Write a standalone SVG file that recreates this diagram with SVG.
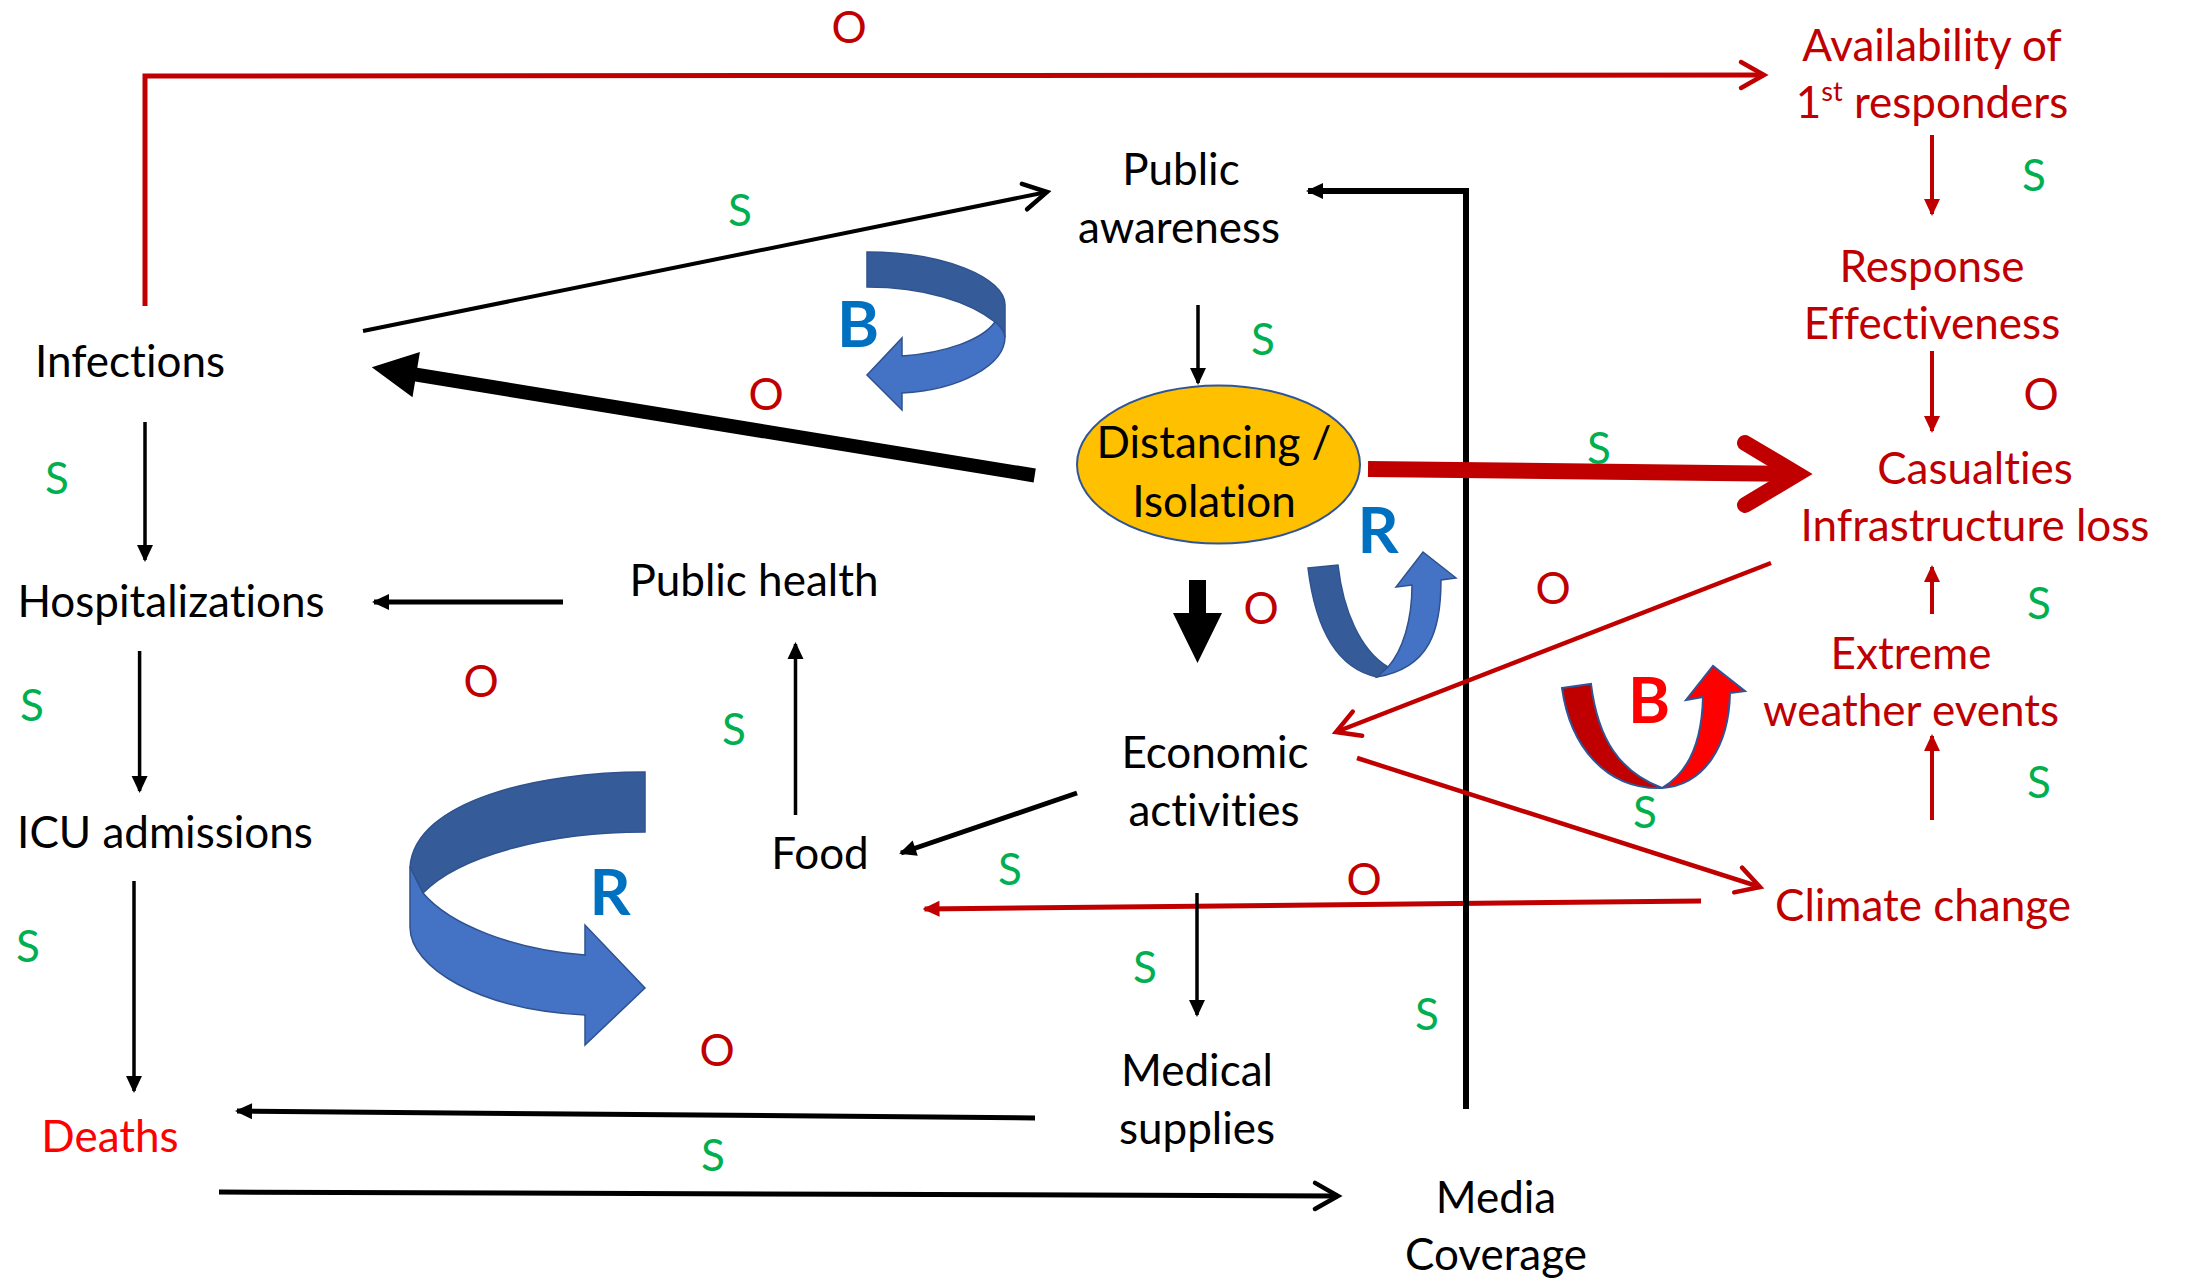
<svg xmlns="http://www.w3.org/2000/svg" width="2187" height="1280" viewBox="0 0 2187 1280">
<style>
.t{font-family:Lato,"Liberation Sans",sans-serif;font-size:44px;text-anchor:middle;font-variant-ligatures:none;font-feature-settings:"liga" 0,"clig" 0}
.k{fill:#000}
.r{fill:#C00000}
.d{fill:#FF0000}
.g{fill:#00B050}
.L{font-family:Lato,"Liberation Sans",sans-serif;font-weight:bold;font-size:64px;text-anchor:middle}
.bl{fill:#0070C0}
.ln{fill:none;stroke:#000;stroke-width:3.5}
.lr{fill:none;stroke:#C00000;stroke-width:4.5}
.dk{fill:#355C99;stroke:#2F528F;stroke-width:1.5}
.lt{fill:#4472C4;stroke:#2F528F;stroke-width:1.5}
</style>
<defs>
<marker id="fa" markerUnits="userSpaceOnUse" markerWidth="20" markerHeight="18" refX="15" refY="8" orient="auto" overflow="visible"><path d="M0,0 L17,8 L0,16 Z" fill="#000"/></marker>
<marker id="fr" markerUnits="userSpaceOnUse" markerWidth="20" markerHeight="18" refX="15" refY="8" orient="auto" overflow="visible"><path d="M0,0 L17,8 L0,16 Z" fill="#C00000"/></marker>
<marker id="oa" markerUnits="userSpaceOnUse" markerWidth="30" markerHeight="30" refX="23" refY="13" orient="auto" overflow="visible"><path d="M0,0 L23,13 L0,26" fill="none" stroke="#000" stroke-width="4.5" stroke-linecap="round"/></marker>
<marker id="or" markerUnits="userSpaceOnUse" markerWidth="30" markerHeight="30" refX="23" refY="13" orient="auto" overflow="visible"><path d="M0,0 L23,13 L0,26" fill="none" stroke="#C00000" stroke-width="4.5" stroke-linecap="round"/></marker>
</defs>
<rect width="2187" height="1280" fill="#fff"/>

<g id="connectors">
<path class="lr" style="stroke-width:5" d="M145,306 L145,76 L1764,75" marker-end="url(#or)"/>
<path class="ln" style="stroke-width:4" d="M363,331 L1047,192" marker-end="url(#oa)"/>
<polygon points="1035.8,468.6 417.3,367.7 419.9,351.9 371.8,367.3 412.5,397.3 415.1,381.5 1033.6,482.4" fill="#000"/>
<path class="ln" d="M145,422 V560" marker-end="url(#fa)"/>
<path class="ln" style="stroke-width:5" d="M563,602 H374" marker-end="url(#fa)"/>
<path class="ln" d="M139.6,651 V791" marker-end="url(#fa)"/>
<path class="ln" d="M134,881 V1091" marker-end="url(#fa)"/>
<path class="ln" d="M795.5,815 V644" marker-end="url(#fa)"/>
<path class="ln" style="stroke-width:5" d="M1077,793 L901,853" marker-end="url(#fa)"/>
<path class="lr" style="stroke-width:5" d="M1701,901 L924.5,909" marker-end="url(#fr)"/>
<path class="ln" style="stroke-width:5" d="M1035,1118 L237,1111" marker-end="url(#fa)"/>
<path class="ln" style="stroke-width:5" d="M219,1192 L1338,1196" marker-end="url(#oa)"/>
<path class="ln" style="stroke-width:6" d="M1466,1109 V191 H1308" marker-end="url(#fa)"/>
<path class="ln" d="M1198,305 V383" marker-end="url(#fa)"/>
<polygon points="1189,580 1206,580 1206,613 1222,613 1197.5,663 1173,613 1189,613" fill="#000"/>
<path d="M1368,469 L1795,474" fill="none" stroke="#C00000" stroke-width="16"/>
<path d="M1745,443 L1797,474 L1745,505" fill="none" stroke="#C00000" stroke-width="16" stroke-linecap="round" stroke-linejoin="miter"/>
<path class="lr" d="M1771,563 L1336,732" marker-end="url(#or)"/>
<path class="lr" d="M1357,758 L1760,887" marker-end="url(#or)"/>
<path class="ln" d="M1197,893 V1015" marker-end="url(#fa)"/>
<path class="lr" style="stroke-width:4" d="M1932,135 V214" marker-end="url(#fr)"/>
<path class="lr" style="stroke-width:4" d="M1932,351 V431" marker-end="url(#fr)"/>
<path class="lr" style="stroke-width:4" d="M1932,614 V567" marker-end="url(#fr)"/>
<path class="lr" style="stroke-width:4" d="M1932,820 V736" marker-end="url(#fr)"/>
</g>

<g id="loop-B1">
<path class="dk" d="M867,252 C945,252 1005,278 1005,305 L1005,337 C1004,330 1000,326 995,322 C970,302 925,287 867,287 Z"/>
<path class="lt" d="M995,322 C1000,326 1004,330 1005,337 C1005,365 960,390 902,393 L902,410 L867,375 L902,338 L902,356 C945,353 982,340 995,322 Z"/>
<text class="L bl" x="858" y="347">B</text>
</g>
<g id="loop-R1">
<path class="dk" d="M645,772 C540,772 415,800 410,867 L423,893 C460,855 550,832 645,832 Z"/>
<path class="lt" d="M410,867 L410,927 C410,968 480,1010 585,1015 L585,1045 L645,988 L585,925 L585,955 C515,950 450,925 423,893 Z"/>
<text class="L bl" x="610" y="915">R</text>
</g>
<g id="loop-R2">
<path class="dk" d="M1308,568 L1338,565 C1343,610 1360,650 1388,667 L1377,677 C1335,668 1315,625 1308,568 Z"/>
<path class="lt" d="M1388,667 C1403,650 1412,620 1412,585 L1396,587 L1423,552 L1456,578 L1441,580 C1441,630 1430,668 1377,677 Z"/>
<text class="L bl" x="1378" y="553">R</text>
</g>
<g id="loop-B2">
<path d="M1562,688 L1591,684 C1598,740 1620,772 1662,788 C1605,790 1570,745 1562,688 Z" fill="#C00000" stroke="#2F5597" stroke-width="2"/>
<path d="M1662,788 C1690,772 1702,740 1703,697 L1686,700 L1713,666 L1745,691 L1730,693 C1729,745 1705,785 1662,788 Z" fill="#FF0000" stroke="#2F5597" stroke-width="2"/>
<text class="L d" x="1649" y="723">B</text>
</g>

<g id="node-infections"><text class="t k" x="130" y="377">Infections</text></g>
<g id="node-hospitalizations"><text class="t k" x="171" y="617">Hospitalizations</text></g>
<g id="node-public-health"><text class="t k" x="754" y="596">Public health</text></g>
<g id="node-icu"><text class="t k" x="165" y="848">ICU admissions</text></g>
<g id="node-food"><text class="t k" x="820" y="869">Food</text></g>
<g id="node-deaths"><text class="t d" x="110" y="1152">Deaths</text></g>
<g id="node-public-awareness"><text class="t k" x="1181" y="185">Public</text><text class="t k" x="1179" y="243">awareness</text></g>
<g id="node-distancing">
<ellipse cx="1218.5" cy="464.5" rx="141.5" ry="79" fill="#FFC000" stroke="#2F5597" stroke-width="2"/>
<text class="t k" x="1214" y="458">Distancing /</text><text class="t k" x="1214" y="517">Isolation</text></g>
<g id="node-economic"><text class="t k" x="1215" y="768">Economic</text><text class="t k" x="1214" y="826">activities</text></g>
<g id="node-medical"><text class="t k" x="1197" y="1086">Medical</text><text class="t k" x="1197" y="1144">supplies</text></g>
<g id="node-media"><text class="t k" x="1496" y="1213">Media</text><text class="t k" x="1496" y="1270">Coverage</text></g>
<g id="node-availability"><text class="t r" x="1932" y="61">Availability of</text><text class="t r" x="1932" y="118">1<tspan font-size="27" dy="-17">st</tspan><tspan dy="17"> responders</tspan></text></g>
<g id="node-response"><text class="t r" x="1932" y="282">Response</text><text class="t r" x="1932" y="339">Effectiveness</text></g>
<g id="node-casualties"><text class="t r" x="1975" y="484">Casualties</text><text class="t r" x="1975" y="541">Infrastructure loss</text></g>
<g id="node-extreme"><text class="t r" x="1911" y="669">Extreme</text><text class="t r" x="1911" y="726">weather events</text></g>
<g id="node-climate"><text class="t r" x="1923" y="921">Climate change</text></g>

<g id="polarity-labels">
<text class="t r" x="849" y="43">O</text>
<text class="t g" x="740" y="226">S</text>
<text class="t r" x="766" y="410">O</text>
<text class="t g" x="57" y="494">S</text>
<text class="t r" x="481" y="697">O</text>
<text class="t g" x="32" y="721">S</text>
<text class="t g" x="734" y="745">S</text>
<text class="t g" x="28" y="962">S</text>
<text class="t r" x="717" y="1066">O</text>
<text class="t g" x="713" y="1171">S</text>
<text class="t g" x="1263" y="355">S</text>
<text class="t r" x="1261" y="624">O</text>
<text class="t g" x="1599" y="464">S</text>
<text class="t r" x="1553" y="604">O</text>
<text class="t g" x="2034" y="191">S</text>
<text class="t r" x="2041" y="410">O</text>
<text class="t g" x="2039" y="619">S</text>
<text class="t g" x="2039" y="798">S</text>
<text class="t g" x="1645" y="828">S</text>
<text class="t g" x="1010" y="885">S</text>
<text class="t r" x="1364" y="895">O</text>
<text class="t g" x="1145" y="983">S</text>
<text class="t g" x="1427" y="1030">S</text>
</g>
</svg>
